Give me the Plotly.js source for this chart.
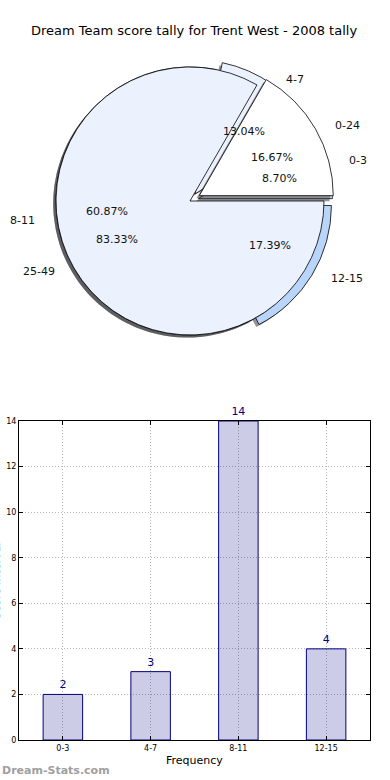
<!DOCTYPE html>
<html>
<head>
<meta charset="utf-8">
<script src="https://cdn.plot.ly/plotly-3.0.1.min.js"></script>
<style>html,body{margin:0;padding:0;background:#fff;}#chart{width:390px;height:780px;}</style>
</head>
<body>
<div id="chart"></div>
<script>
// ---- data ----
const chartTitle = 'Dream Team score tally for Trent West - 2008 tally';
const pieLabelsA = ['0-3', '4-7', '8-11', '12-15'];
const pieValuesA = [2, 3, 14, 4];
const pieLabelsB = ['0-24', '25-49'];
const pieValuesB = [1, 5];
const barCategories = ['0-3', '4-7', '8-11', '12-15'];
const barValues = [2, 3, 14, 4];
const yTickValues = [0, 2, 4, 6, 8, 10, 12, 14];
const xAxisTitle = 'Frequency';
const yAxisTitle = 'Score Interval';
const watermark = 'Dream-Stats.com';

// ---- style / geometry ----
const W = 390, H = 780;
const FONT = 'DejaVu Sans, sans-serif';
const explodeA = [0.065, 0.065, 0, 0.065];
const explodeB = [0.08, 0];
const colorsA = ['#ebf1fd', '#ebf1fd', '#ebf1fd', '#b9d6fa'];
const colorsB = ['#ffffff', '#ebf1fd'];
const pieCx = 190, pieCy = 201, pieR = 134;   // pixel centre / radius of drawn pie
const lblRx = 140, lblRy = 128;                // label ellipse (reference pie)
const shadowDx = -2.8, shadowDy = 2.6;

function px2x(x) { return x / W; }
function px2y(y) { return 1 - y / H; }
function pieDomain(pulls, dx, dy) {
  const h = pieR * (1 + Math.max(...pulls));
  return {
    x: [px2x(pieCx + dx - h), px2x(pieCx + dx + h)],
    y: [px2y(pieCy + dy + h), px2y(pieCy + dy - h)]
  };
}
function pieTrace(labels, values, colors, pulls, dx, dy, lineW) {
  const total = values.reduce((a, b) => a + b, 0);
  // counterclockwise, first slice starting at 3 o'clock (matplotlib default)
  const rot = 90 - 360 * values[0] / total;
  return {
    type: 'pie', labels: labels, values: values, sort: false,
    direction: 'counterclockwise', rotation: rot,
    pull: pulls, textinfo: 'none', hoverinfo: 'skip',
    marker: { colors: colors, line: { color: '#000', width: lineW } },
    domain: pieDomain(pulls, dx, dy), showlegend: false
  };
}
const shadeA = pieValuesA.map(() => 'rgba(40,40,45,0.5)');
const shadeB = pieValuesB.map(() => 'rgba(40,40,45,0.5)');

const traces = [
  pieTrace(pieLabelsA, pieValuesA, shadeA, explodeA, shadowDx, shadowDy, 0),
  pieTrace(pieLabelsA, pieValuesA, colorsA, explodeA, 0, 0, 0.8),
  pieTrace(pieLabelsB, pieValuesB, shadeB, explodeB, shadowDx, shadowDy, 0),
  pieTrace(pieLabelsB, pieValuesB, colorsB, explodeB, 0, 0, 0.8),
  {
    type: 'bar', x: barCategories, y: barValues, width: 0.45,
    marker: { color: 'rgba(0,0,128,0.2)', line: { color: '#000080', width: 1 } },
    text: barValues.map(String), textposition: 'outside', cliponaxis: false,
    textfont: { color: '#000080', size: 11, family: FONT },
    hoverinfo: 'skip', xaxis: 'x', yaxis: 'y', showlegend: false
  }
];

// ---- pie labels (matplotlib-like placement) ----
const annotations = [];
function pieAnnotations(labels, values, explode) {
  const total = values.reduce((a, b) => a + b, 0);
  let start = 0;
  values.forEach((v, i) => {
    const frac = v / total;
    const mid = (start + frac / 2) * 2 * Math.PI;
    start += frac;
    const c = Math.cos(mid), s = Math.sin(mid);
    const lr = 1.1 + explode[i], pr = 0.6 + explode[i];
    annotations.push({
      text: labels[i], xref: 'paper', yref: 'paper', showarrow: false,
      x: px2x(pieCx + lr * lblRx * c), y: px2y(pieCy - lr * lblRy * s),
      xanchor: c > 0 ? 'left' : 'right', yanchor: 'middle',
      font: { family: FONT, size: 11, color: '#111' }
    });
    annotations.push({
      text: (frac * 100).toFixed(2) + '%', xref: 'paper', yref: 'paper', showarrow: false,
      x: px2x(pieCx + pr * lblRx * c), y: px2y(pieCy - pr * lblRy * s),
      xanchor: 'center', yanchor: 'middle',
      font: { family: FONT, size: 11, color: '#111' }
    });
  });
}
pieAnnotations(pieLabelsA, pieValuesA, explodeA);
pieAnnotations(pieLabelsB, pieValuesB, explodeB);

annotations.push({
  text: xAxisTitle, xref: 'paper', yref: 'paper', showarrow: false,
  x: px2x(194), y: px2y(760), xanchor: 'center', yanchor: 'middle',
  font: { family: FONT, size: 11, color: '#000' }
});
annotations.push({
  text: yAxisTitle, xref: 'paper', yref: 'paper', showarrow: false, textangle: -90,
  x: px2x(-4), y: px2y(581), xanchor: 'center', yanchor: 'middle',
  font: { family: FONT, size: 11, color: '#000' }
});
annotations.push({
  text: '<b>' + watermark + '</b>', xref: 'paper', yref: 'paper', showarrow: false,
  x: 0, y: px2y(770), xanchor: 'left', yanchor: 'middle',
  font: { family: FONT, size: 11, color: '#a0a0a0' }
});

const axisCommon = {
  showline: true, linecolor: '#000', linewidth: 1, mirror: 'ticks',
  ticks: 'inside', ticklen: 4, tickcolor: '#000', tickwidth: 1,
  showgrid: true, gridcolor: '#b4b4b4', gridwidth: 1, griddash: '1px,2px',
  zeroline: false, tickfont: { family: FONT, size: 8, color: '#000' }, fixedrange: true
};

const layout = {
  width: W, height: H, margin: { l: 0, r: 0, t: 0, b: 0 },
  paper_bgcolor: '#fff', plot_bgcolor: '#fff',
  font: { family: FONT, color: '#000' },
  title: { text: chartTitle, font: { family: FONT, size: 13, color: '#000' },
           x: px2x(194), xanchor: 'center', y: px2y(30), yanchor: 'middle', xref: 'paper', yref: 'paper' },
  xaxis: Object.assign({}, axisCommon, {
    domain: [px2x(19), px2x(370)], anchor: 'y', type: 'category',
    range: [-0.5, barCategories.length - 0.5]
  }),
  yaxis: Object.assign({}, axisCommon, {
    domain: [px2y(740), px2y(421)], anchor: 'x',
    range: [0, 14], tickvals: yTickValues, ticktext: yTickValues.map(String)
  }),
  annotations: annotations,
  showlegend: false
};

Plotly.newPlot('chart', traces, layout, { displayModeBar: false, staticPlot: true });
</script>
</body>
</html>
